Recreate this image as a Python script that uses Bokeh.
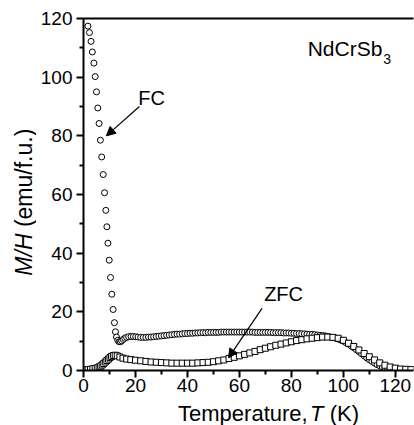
from bokeh.plotting import figure
from bokeh.models import Range1d, LinearAxis, FixedTicker, Label, Arrow, NormalHead
from bokeh.layouts import row, column
from bokeh.core.properties import value
from bokeh.embed import file_html
from bokeh.resources import INLINE
import math

# ---- data ----
fc_T = [1.7, 2.3, 2.9, 3.4, 4.0, 4.5, 5.0, 5.5, 6.0, 6.5, 7.0, 7.6, 8.1, 8.6, 9.0, 9.4,
        9.9, 10.4, 10.9, 11.4, 11.9, 12.3, 12.7, 13.2, 13.7, 14.2, 14.7, 15.3, 15.9,
        16.6, 17.4, 18.3, 19.2, 20.1, 21, 22, 23, 24, 25, 26, 27, 28, 29, 30, 31, 32,
        33, 34, 35, 36, 37, 38, 39, 40, 41, 42, 43, 44, 45, 46, 47, 48, 49, 50, 51,
        52, 53, 54, 55, 56, 57, 58, 59, 60, 61, 62, 63, 64, 65, 66, 67, 68, 69, 70,
        71, 72, 73, 74, 75, 76, 77, 78, 79, 80, 81, 82, 83, 84, 85, 86, 87, 88, 89,
        90, 91, 92, 93, 94, 95, 96, 97, 98, 99, 100, 101, 102, 103, 104, 105, 106,
        107, 108, 109, 110, 111, 112, 113, 114, 115, 116, 117, 118, 119, 120, 121,
        122, 123, 124, 125, 126, 127]
fc_M = [117.4, 115.2, 112.2, 108.6, 104.8, 100.2, 95.0, 89.5, 84.2, 78.5, 72.8, 66.8,
        60.6, 54.6, 49.0, 43.4, 37.6, 31.7, 26.0, 20.8, 16.3, 13.2, 11.4, 10.3, 9.8,
        9.8, 10.1, 10.6, 11.0, 11.3, 11.5, 11.6, 11.6, 11.5, 11.4, 11.3, 11.3, 11.3,
        11.4, 11.4, 11.5, 11.6, 11.7, 11.8, 11.9, 12.0, 12.1, 12.2, 12.3, 12.4, 12.4,
        12.5, 12.6, 12.6, 12.7, 12.7, 12.8, 12.8, 12.9, 12.9, 12.9, 13.0, 13.0, 13.0,
        13.0, 13.0, 13.1, 13.1, 13.1, 13.1, 13.1, 13.1, 13.1, 13.1, 13.1, 13.1, 13.1,
        13.1, 13.1, 13.0, 13.0, 13.0, 13.0, 13.0, 13.0, 13.0, 12.9, 12.9, 12.9, 12.9,
        12.8, 12.8, 12.8, 12.7, 12.7, 12.6, 12.6, 12.5, 12.5, 12.4, 12.3, 12.3, 12.2,
        12.1, 12.0, 11.9, 11.8, 11.6, 11.4, 11.2, 11.0, 10.7, 10.4, 10.0, 9.5, 9.0,
        8.4, 7.8, 7.1, 6.4, 5.7, 5.0, 4.3, 3.7, 3.1, 2.5, 2.0, 1.6, 1.2, 0.9, 0.7,
        0.5, 0.4, 0.3, 0.3, 0.2, 0.2, 0.2, 0.2, 0.2, 0.2]

zfc_T = [0.8, 1.8, 2.7, 3.6, 4.5, 5.3, 6.0, 6.6, 7.2, 7.8, 8.4, 9.0, 9.6, 10.2, 10.8,
         11.5, 12.2, 13.0, 14.0, 15.2, 16.6, 18.2, 20, 22, 24, 26, 28, 30, 32, 34, 36,
         38, 40, 42, 44, 46, 48, 50, 52, 54, 56, 58, 60, 62, 64, 66, 68, 70, 72, 74,
         76, 78, 80, 82, 84, 86, 88, 90, 92, 94, 96, 98, 100, 102, 104, 106, 108, 110,
         112, 114, 116, 118, 120, 122, 124, 126]
zfc_M = [0.2, 0.3, 0.4, 0.6, 0.7, 0.9, 1.2, 1.5, 1.9, 2.4, 2.9, 3.4, 3.9, 4.4, 4.8,
         5.1, 5.2, 5.0, 4.6, 4.2, 3.9, 3.7, 3.5, 3.3, 3.1, 2.9, 2.8, 2.7, 2.6, 2.5, 2.5,
         2.5, 2.5, 2.5, 2.6, 2.7, 2.8, 3.0, 3.3, 3.6, 4.1, 4.5, 5.0, 5.5, 6.0, 6.5, 7.1,
         7.6, 8.1, 8.6, 9.0, 9.4, 9.8, 10.2, 10.5, 10.8, 11.0, 11.2, 11.4, 11.4, 11.3,
         11.0, 10.3, 9.3, 8.2, 7.0, 5.8, 4.7, 3.6, 2.6, 1.8, 1.2, 0.8, 0.5, 0.4, 0.3]

x_ticks = [0, 20, 40, 60, 80, 100, 120]
y_ticks = [0, 20, 40, 60, 80, 100, 120]

x_title = ["Temperature,", "T", "(K)"]
y_title = ["M/H", "(emu/f.u.)"]

FONT = "Liberation Sans"
FSX = 22           # x title font size (px)
FSY = 23           # y title font size (px)
LEFT_W = 36
MAIN_W = 414 - LEFT_W
MAIN_H = 400
BOT_H = 425 - MAIN_H
FRAME_L, FRAME_R, FRAME_T, FRAME_B = 83, 413, 18, 370   # page pixels of the plot frame

# ---- main plot ----
p = figure(width=MAIN_W, height=MAIN_H, output_backend="svg", toolbar_location=None,
           title=None, x_range=Range1d(0, 127), y_range=Range1d(0, 120),
           min_border_left=FRAME_L - LEFT_W, min_border_right=414 - FRAME_R,
           min_border_top=FRAME_T, min_border_bottom=MAIN_H - FRAME_B)
p.background_fill_color = "white"
p.border_fill_color = "white"
p.outline_line_color = None
p.xgrid.visible = False
p.ygrid.visible = False

for ax, ticks in ((p.xaxis[0], x_ticks), (p.yaxis[0], y_ticks)):
    ax.ticker = FixedTicker(ticks=ticks, minor_ticks=[t + 10 for t in ticks])
    ax.axis_line_width = 2
    ax.major_tick_line_width = 2
    ax.minor_tick_line_width = 2
    ax.major_tick_out = 7
    ax.major_tick_in = 0
    ax.minor_tick_out = 4
    ax.minor_tick_in = 0
    ax.major_label_text_font = FONT
    ax.major_label_text_font_size = "19px"
    ax.major_label_text_color = "black"
    ax.major_label_standoff = 1
p.yaxis[0].major_label_standoff = 4

top = LinearAxis(ticker=FixedTicker(ticks=[]), axis_line_width=2,
                 major_label_text_font_size="0px")
p.add_layout(top, "above")

p.scatter(fc_T, fc_M, marker="circle", size=6, fill_color="white", line_color="black", line_width=1)
p.scatter(zfc_T, zfc_M, marker="square", size=6, fill_color="white", line_color="black", line_width=1)

p.add_layout(Label(x=26.2, y=93, text="FC", text_font=FONT, text_font_size="20px",
                   text_color="black", text_align="center", text_baseline="middle"))
p.add_layout(Arrow(x_start=21.5, y_start=90, x_end=8.8, y_end=80, line_width=1.2,
                   end=NormalHead(size=9, fill_color="black", line_color="black")))
p.add_layout(Label(x=77, y=26, text="ZFC", text_font=FONT, text_font_size="20px",
                   text_color="black", text_align="center", text_baseline="middle"))
p.add_layout(Arrow(x_start=68.7, y_start=21.2, x_end=55.8, y_end=4.3, line_width=1.2,
                   end=NormalHead(size=9, fill_color="black", line_color="black")))
p.add_layout(Label(x=115, y=109.8, text="NdCrSb", text_font=FONT, text_font_size="21px",
                   text_color="black", text_align="right", text_baseline="middle"))
p.add_layout(Label(x=115, y=106.2, text="3", text_font=FONT, text_font_size="14px",
                   text_color="black", text_align="left", text_baseline="middle", x_offset=1))

# ---- x-axis title strip (its frame is aligned with the main frame horizontally) ----
b = figure(width=MAIN_W, height=BOT_H, output_backend="svg", toolbar_location=None,
           title=None, x_range=Range1d(FRAME_L, FRAME_R), y_range=Range1d(0, BOT_H),
           x_axis_type=None, y_axis_type=None, min_border=0,
           min_border_left=FRAME_L - LEFT_W, min_border_right=414 - FRAME_R)
b.outline_line_color = None
b.grid.visible = False
cx = dict(text_font=value(FONT), text_font_size=value(f"{FSX}px"),
          text_baseline="middle", text_color="black")
w1 = 6.002 * FSX          # "Temperature, " incl. space
wT = 0.611 * FSX
w3 = 1.611 * FSX          # " (K)"
start = 268 - (w1 + wT + w3) / 2
cy = 425 - 412.5
b.text(x=[start], y=[cy], text=[x_title[0]], text_align="left", **cx)
b.text(x=[start + w1], y=[cy], text=[x_title[1]], text_font_style="italic", text_align="left", **cx)
b.text(x=[start + w1 + wT + 0.278 * FSX], y=[cy], text=[x_title[2]], text_align="left", **cx)

# ---- y-axis title strip (its frame is aligned with the main frame vertically) ----
l = figure(width=LEFT_W, height=MAIN_H, output_backend="svg", toolbar_location=None,
           title=None, x_range=Range1d(0, LEFT_W), y_range=Range1d(0, FRAME_B - FRAME_T),
           x_axis_type=None, y_axis_type=None, min_border=0,
           min_border_top=FRAME_T, min_border_bottom=MAIN_H - FRAME_B)
l.outline_line_color = None
l.grid.visible = False
cyy = dict(text_font=value(FONT), text_font_size=value(f"{FSY}px"),
           text_baseline="middle", text_color="black")
jy = FRAME_B - 233
l.text(x=[23], y=[jy], text=[y_title[0]], angle=math.pi / 2, text_font_style="italic",
       text_align="right", **cyy)
l.text(x=[23], y=[jy + 0.278 * FSY], text=[y_title[1]], angle=math.pi / 2, text_align="left", **cyy)

layout = row(l, column(p, b, spacing=0), spacing=0)
open("out.html", "w").write(file_html(layout, INLINE))
